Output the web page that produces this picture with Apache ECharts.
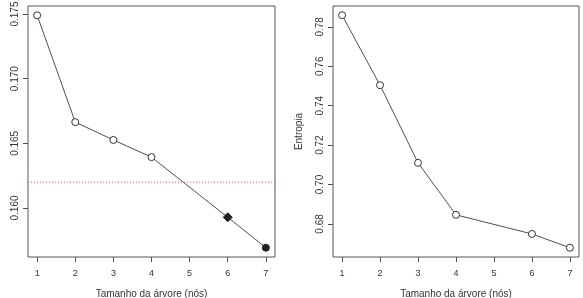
<!DOCTYPE html>
<head>
    <meta charset="utf-8">
    <title>ECharts</title>
    <script src="https://cdn.jsdelivr.net/npm/echarts@6/dist/echarts.min.js"></script>
</head>
<body style="margin:0">
    <div id="container" style="width:583px;height:298px"></div>
    <script type="text/javascript">

        // tamanho da arvore (nos) - nao ha arvore de 5 nos
        var tamanhos = [1, 2, 3, 4, 6, 7];
        var erroCV = [0.1749, 0.16664, 0.16526, 0.16393, 0.15928, 0.15693];
        var entropia = [0.7859, 0.7504, 0.7110, 0.6846, 0.6749, 0.6679];
        var limiar = 0.162;

        var xTicks = [1, 2, 3, 4, 5, 6, 7];
        var yTicksErro = [0.160, 0.165, 0.170, 0.175];
        var yTicksEnt = [0.68, 0.70, 0.72, 0.74, 0.76, 0.78];

        var dom = document.getElementById("container");
        var myChart = echarts.init(dom);

        var cor = '#505050';
        var fonte = 'Liberation Sans, Arial, sans-serif';
        var xMin = 0.76, xMax = 7.24;

        function eixoX(idx) {
            return {
                type: 'value', gridIndex: idx, min: xMin, max: xMax,
                name: 'Tamanho da árvore (nós)', nameLocation: 'middle', nameGap: 32,
                nameTextStyle: { color: '#333', fontSize: 10, fontFamily: fonte },
                axisLine: { show: false },
                axisTick: { show: true, inside: false, length: 5, customValues: xTicks,
                            lineStyle: { color: cor } },
                axisLabel: { customValues: xTicks, margin: 12, color: '#333', fontSize: 9, fontFamily: fonte },
                splitLine: { show: false }
            };
        }

        function eixoY(idx, min, max, ticks, casas, nome) {
            return {
                type: 'value', gridIndex: idx, min: min, max: max,
                name: nome, nameLocation: 'middle', nameGap: 29,
                nameTextStyle: { color: '#333', fontSize: 10, fontFamily: fonte },
                axisLine: { show: false },
                axisTick: { show: true, inside: false, length: 5, customValues: ticks,
                            lineStyle: { color: cor } },
                axisLabel: {
                    customValues: ticks, rotate: 90, margin: 8, color: '#333', fontSize: 10,
                    fontFamily: fonte,
                    formatter: function (v) { return v.toFixed(casas); }
                },
                splitLine: { show: false }
            };
        }

        function pontos(ys) {
            var arr = [];
            for (var i = 0; i < tamanhos.length; i++) {
                arr.push([tamanhos[i], ys[i]]);
            }
            return arr;
        }

        var dadosErro = pontos(erroCV);
        // os dois ultimos pontos sao cheios
        dadosErro[4] = { value: dadosErro[4], symbol: 'diamond', symbolSize: 9,
                         itemStyle: { color: '#222', borderColor: '#222' } };
        dadosErro[5] = { value: dadosErro[5], symbol: 'circle', symbolSize: 7,
                         itemStyle: { color: '#222', borderColor: '#222' } };

        var option = {
            animation: false,
            backgroundColor: '#fff',
            grid: [
                { left: 28, top: 6, width: 247, height: 251, show: true, outerBoundsMode: 'none',
                  containLabel: false, borderColor: '#555', borderWidth: 1, backgroundColor: 'transparent' },
                { left: 333, top: 6, width: 246, height: 251, show: true, outerBoundsMode: 'none',
                  containLabel: false, borderColor: '#555', borderWidth: 1, backgroundColor: 'transparent' }
            ],
            xAxis: [eixoX(0), eixoX(1)],
            yAxis: [
                eixoY(0, 0.15621, 0.17562, yTicksErro, 3, ''),
                eixoY(1, 0.6632, 0.7906, yTicksEnt, 2, 'Entropia')
            ],
            series: [
                {
                    // linha pontilhada vermelha do limiar
                    type: 'line', xAxisIndex: 0, yAxisIndex: 0,
                    data: [[xMin, limiar], [xMax, limiar]],
                    symbol: 'none', silent: true,
                    lineStyle: { color: '#e05a5a', type: [1, 2], width: 1 }
                },
                {
                    type: 'line', xAxisIndex: 0, yAxisIndex: 0,
                    data: dadosErro,
                    symbol: 'circle', symbolSize: 7, showAllSymbol: true,
                    lineStyle: { color: cor, width: 1 },
                    itemStyle: { color: '#fff', borderColor: '#333', borderWidth: 1 }
                },
                {
                    type: 'line', xAxisIndex: 1, yAxisIndex: 1,
                    data: pontos(entropia),
                    symbol: 'circle', symbolSize: 7, showAllSymbol: true,
                    lineStyle: { color: cor, width: 1 },
                    itemStyle: { color: '#fff', borderColor: '#333', borderWidth: 1 }
                }
            ]
        };

        myChart.setOption(option);

    </script>
</body>
